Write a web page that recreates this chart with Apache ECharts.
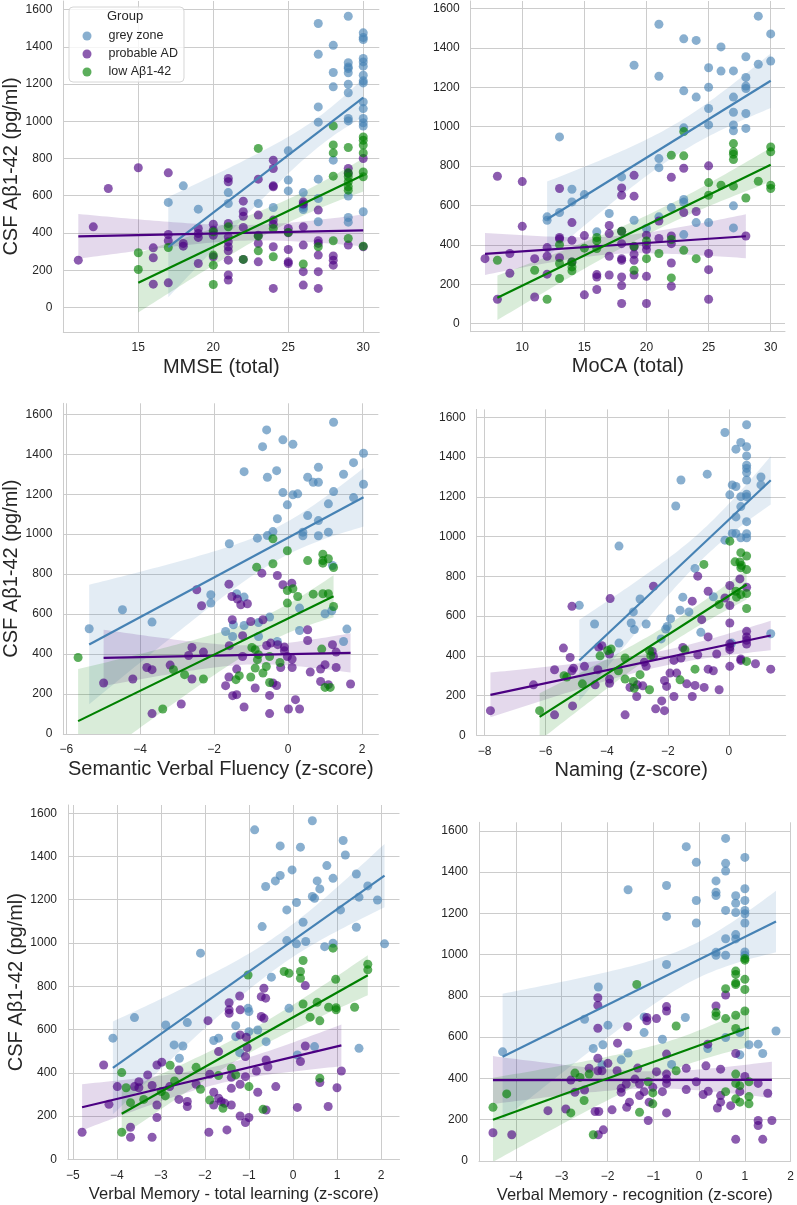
<!DOCTYPE html>
<html><head><meta charset="utf-8">
<script src="https://cdn.jsdelivr.net/npm/echarts@6/dist/echarts.min.js"></script>
<style>html,body{margin:0;padding:0;background:#fff}#c{width:797px;height:1205px}</style>
</head><body><div id="c"></div>
<script>
// ---------------- DATA ----------------
const groups = ['grey zone', 'probable AD', 'low Aβ1-42'];
const yLabel = 'CSF Aβ1-42 (pg/ml)';
const xLabels = ['MMSE (total)', 'MoCA (total)', 'Semantic Verbal Fluency (z-score)', 'Naming (z-score)',
  'Verbal Memory - total learning (z-score)', 'Verbal Memory - recognition (z-score)'];
const yTicks = [0, 200, 400, 600, 800, 1000, 1200, 1400, 1600];
const mmseTicks = [15, 20, 25, 30];
const mocaTicks = [10, 15, 20, 25, 30];
const svfTicks = [-6, -4, -2, 0, 2];
const namingTicks = [-8, -6, -4, -2, 0];
const vmtlTicks = [-5, -4, -3, -2, -1, 0, 1, 2];
const vmrTicks = [-4, -3, -2, -1, 0, 1, 2];

const mmse_grey = [[17,564],[18,653],[19,528],[21,617],[21,558],[23,558],[24,537],[25,841],[25,684],[25,626],[26,617],[26,549],[26,537],[26,526],[27,1525],[27,1360],[27,1077],[27,995],[27,689],[27,585],[27,460],[28,1408],[28,1262],[28,1185],[28,791],[29,1564],[29,1314],[29,1292],[29,1283],[29,1260],[29,1199],[29,1153],[29,1015],[29,1002],[29,598],[29,483],[29,458],[30,1475],[30,1450],[30,1439],[30,1337],[30,1319],[30,1296],[30,1247],[30,1217],[30,1206],[30,1104],[30,1068],[30,1015],[30,992],[30,974],[30,514]];
const mmse_ad = [[11,254],[12,433],[13,639],[15,750],[16,320],[16,267],[16,125],[17,723],[17,392],[17,358],[17,132],[18,344],[18,329],[19,424],[19,397],[19,376],[19,236],[20,447],[20,415],[20,388],[20,272],[21,693],[21,675],[21,451],[21,379],[21,353],[21,326],[21,304],[21,254],[21,174],[21,147],[22,571],[22,514],[22,490],[22,430],[22,258],[23,689],[23,496],[23,388],[23,344],[23,245],[24,791],[24,746],[24,653],[24,648],[24,469],[24,447],[24,326],[24,102],[25,424],[25,401],[25,311],[25,245],[25,236],[26,567],[26,555],[26,433],[26,335],[26,192],[26,120],[27,523],[27,358],[27,344],[27,281],[27,192],[27,102],[28,276],[28,254],[28,227],[29,746],[29,719],[29,335],[30,800],[30,326]];
const mmse_low = [[15,294],[15,204],[17,322],[20,406],[20,281],[20,227],[20,123],[21,433],[22,258],[23,854],[23,383],[23,304],[24,424],[24,272],[25,403],[26,233],[27,326],[28,975],[28,873],[28,830],[28,705],[28,358],[29,859],[29,723],[29,702],[29,675],[29,648],[29,630],[29,370],[30,916],[30,898],[30,872],[30,830],[30,728],[30,702],[30,329]];

const moca_grey = [[12,542],[12,525],[13,948],[13,564],[14,682],[14,618],[15,655],[16,466],[17,559],[18,745],[19,1312],[19,525],[20,483],[21,1520],[21,1256],[21,838],[21,792],[21,542],[22,589],[23,1446],[23,1182],[23,994],[23,630],[23,616],[23,452],[24,1438],[24,1150],[24,513],[25,1299],[25,1200],[25,1092],[25,1009],[25,513],[26,1405],[26,1282],[27,1283],[27,1150],[27,1073],[27,1009],[27,979],[27,598],[27,486],[28,1355],[28,1250],[28,1206],[28,1194],[28,1067],[28,991],[29,1561],[29,1317],[30,1471],[30,1333]];
const moca_ad = [[7,330],[8,748],[8,124],[9,356],[9,256],[10,721],[10,494],[11,330],[11,135],[12,386],[12,342],[12,251],[13,686],[13,437],[13,430],[13,335],[14,513],[14,423],[14,313],[15,447],[15,146],[16,249],[16,237],[16,173],[17,498],[17,457],[17,342],[17,247],[18,689],[18,652],[18,469],[18,406],[18,330],[18,322],[18,237],[18,193],[18,102],[19,753],[19,647],[19,389],[19,352],[19,322],[19,247],[20,449],[20,398],[20,376],[20,240],[20,102],[21,521],[21,432],[22,743],[22,445],[22,406],[22,308],[22,190],[23,789],[23,564],[24,569],[25,801],[25,356],[25,274],[25,124],[28,445]];
const moca_low = [[8,322],[11,271],[12,124],[13,401],[13,305],[13,229],[14,313],[14,288],[14,268],[15,383],[16,437],[16,420],[16,381],[18,469],[19,393],[19,271],[20,420],[20,330],[21,356],[22,855],[22,427],[22,232],[23,975],[23,852],[23,372],[24,330],[25,716],[25,652],[26,703],[27,914],[27,872],[27,860],[27,833],[27,698],[28,638],[29,723],[30,897],[30,872],[30,703],[30,686]];

const svf_grey = [[-5.38,527],[-4.48,622],[-3.68,560],[-2.09,697],[-2.09,655],[-1.59,952],[-1.69,513],[-1.50,488],[-1.48,547],[-1.39,702],[-1.19,1313],[-1.19,685],[-1.19,543],[-0.83,980],[-0.80,558],[-0.80,488],[-0.69,1438],[-0.58,1522],[-0.56,1285],[-0.56,993],[-0.50,585],[-0.41,1013],[-0.31,1318],[-0.29,1077],[-0.29,463],[-0.14,1472],[-0.14,1208],[-0.02,1147],[0.13,1450],[0.13,1197],[0.26,1202],[0.31,630],[0.31,518],[0.40,992],[0.40,1010],[0.53,1093],[0.53,1285],[0.68,1260],[0.82,1260],[0.82,1335],[0.82,1068],[0.82,992],[1.0,602],[1.09,1010],[1.09,1152],[1.23,1213],[1.23,1560],[1.20,843],[1.18,617],[1.50,1300],[1.50,463],[1.59,525],[1.77,1358],[1.77,1183],[2.04,1405],[2.04,1250]];
const svf_ad = [[-4.99,255],[-4.20,275],[-3.82,333],[-3.68,322],[-3.68,102],[-3.19,345],[-2.89,150],[-2.69,393],[-2.60,433],[-2.60,275],[-2.47,722],[-2.34,642],[-2.29,410],[-1.60,750],[-1.52,688],[-1.51,572],[-1.59,442],[-1.60,285],[-1.69,242],[-1.50,192],[-1.39,197],[-1.39,325],[-1.37,675],[-1.28,647],[-1.10,652],[-1.23,492],[-1.23,388],[-1.19,135],[-1.01,563],[-0.89,230],[-0.71,805],[-0.68,572],[-0.58,443],[-0.50,193],[-0.50,102],[-0.47,455],[-0.41,255],[-0.31,243],[-0.29,793],[-0.28,447],[-0.20,333],[-0.14,747],[-0.10,435],[-0.10,417],[-0.02,388],[0.01,125],[0.10,755],[0.11,333],[0.11,375],[0.20,172],[0.31,125],[0.53,522],[0.53,468],[0.60,310],[0.88,325],[0.88,263],[1.0,347],[1.09,247],[1.20,447],[1.30,333],[1.30,410],[1.69,250]];
const svf_low = [[-5.68,383],[-3.39,125],[-3.10,322],[-2.80,297],[-2.29,275],[-1.41,272],[-1.32,292],[-1.01,285],[-0.98,433],[-0.89,422],[-0.89,330],[-0.85,835],[-0.83,372],[-0.80,397],[-0.68,305],[-0.59,338],[-0.50,258],[-0.50,388],[-0.41,852],[-0.41,977],[-0.22,358],[-0.02,917],[-0.02,718],[-0.02,655],[0.13,727],[0.26,688],[0.53,868],[0.68,700],[0.91,425],[0.94,900],[0.94,868],[0.94,855],[0.94,702],[1.0,233],[1.09,877],[1.09,702],[1.14,233],[1.23,833],[1.23,638]];

const naming_grey = [[-4.90,654],[-4.40,560],[-3.60,464],[-3.60,952],[-3.20,565],[-3.13,621],[-3.10,532],[-2.91,686],[-2.71,560],[-2.22,485],[-2.07,535],[-2.02,548],[-1.91,587],[-1.74,1154],[-1.60,629],[-1.57,1285],[-1.51,695],[-1.31,621],[-1.11,840],[-0.92,518],[-0.71,1314],[-0.51,697],[-0.13,1524],[-0.13,982],[0.03,1210],[0.09,464],[0.11,1260],[0.11,1016],[0.23,1252],[0.23,1440],[0.23,1016],[0.23,1099],[0.39,1474],[0.39,1201],[0.39,1151],[0.39,994],[0.58,1563],[0.58,1452],[0.58,1406],[0.58,1359],[0.58,1343],[0.58,1322],[0.58,1285],[0.58,1213],[0.58,1201],[0.58,1075],[0.58,1014],[0.58,994],[1.05,1300],[1.05,1260],[1.37,511]];
const naming_ad = [[-7.81,124],[-6.40,254],[-5.71,330],[-5.71,103],[-5.42,439],[-5.20,392],[-5.14,649],[-5.14,325],[-5.09,338],[-5.12,148],[-4.73,347],[-4.38,254],[-4.29,330],[-4.27,444],[-4.16,451],[-3.91,409],[-3.91,283],[-3.91,262],[-3.89,688],[-3.40,103],[-3.24,241],[-3.02,195],[-3.00,254],[-2.82,249],[-2.77,368],[-2.71,347],[-2.47,750],[-2.51,422],[-2.47,397],[-2.40,133],[-2.20,173],[-2.11,124],[-2.11,276],[-2.04,246],[-1.93,313],[-1.80,195],[-1.80,377],[-1.71,313],[-1.57,389],[-1.51,442],[-1.38,259],[-1.20,195],[-1.20,675],[-1.11,251],[-1.02,801],[-1.02,405],[-0.89,582],[-0.81,241],[-0.68,725],[-0.68,495],[-0.68,333],[-0.51,325],[-0.40,409],[-0.32,229],[-0.13,691],[0.03,754],[0.03,653],[0.03,565],[0.03,461],[0.03,444],[0.03,431],[0.03,347],[0.36,787],[0.39,384],[0.39,377],[0.58,745],[0.58,523],[0.58,495],[0.58,478],[0.58,459],[0.87,360],[1.37,333]];
const naming_low = [[-6.20,124],[-5.40,300],[-5.31,293],[-4.80,259],[-4.22,400],[-3.97,427],[-3.86,434],[-3.62,325],[-3.40,283],[-3.40,389],[-3.13,271],[-3.10,237],[-2.91,305],[-2.60,229],[-2.60,426],[-2.56,400],[-1.60,279],[-1.44,431],[-1.11,333],[-0.82,860],[-0.32,658],[0.03,977],[0.20,873],[0.23,725],[0.25,695],[0.36,872],[0.39,919],[0.39,843],[0.39,708],[0.41,855],[0.58,902],[0.58,834],[0.58,713],[0.58,638],[0.58,372]];

const vmtl_grey = [[-4.09,560],[-3.60,655],[-2.89,621],[-2.70,529],[-2.58,467],[-2.50,524],[-2.40,632],[-2.10,953],[-1.80,549],[-1.69,560],[-1.30,618],[-1.30,567],[-1.21,493],[-1.02,698],[-1.0,683],[-1.0,590],[-0.87,1523],[-0.80,598],[-0.70,1076],[-0.62,1261],[-0.61,544],[-0.49,842],[-0.40,1287],[-0.29,1449],[-0.29,1312],[-0.14,1153],[-0.14,1011],[-0.09,698],[-0.02,1338],[0.08,1187],[0.08,996],[0.10,482],[0.17,1443],[0.23,1096],[0.29,1007],[0.44,1565],[0.44,1215],[0.49,1207],[0.49,521],[0.55,1287],[0.61,1250],[0.72,983],[0.77,1358],[0.91,1299],[0.91,999],[1.08,1153],[1.14,1474],[1.19,1407],[1.44,1319],[1.44,1073],[1.50,1212],[1.50,513],[1.70,1264],[1.92,1199],[2.08,996]];
const vmtl_ad = [[-4.79,125],[-4.30,436],[-4.18,254],[-3.99,336],[-3.69,148],[-3.69,102],[-3.60,336],[-3.50,359],[-3.50,331],[-3.30,390],[-3.20,341],[-3.20,102],[-3.09,436],[-3.09,251],[-3.09,193],[-2.98,449],[-2.80,336],[-2.59,277],[-2.59,413],[-2.40,267],[-2.40,244],[-2.20,347],[-1.93,641],[-1.91,125],[-1.89,393],[-1.80,310],[-1.80,251],[-1.69,498],[-1.69,282],[-1.63,267],[-1.55,259],[-1.45,724],[-1.45,691],[-1.45,675],[-1.50,136],[-1.40,251],[-1.40,328],[-1.40,379],[-1.21,755],[-1.20,691],[-1.20,575],[-1.20,347],[-1.20,200],[-1.08,170],[-1.08,475],[-1.08,382],[-1.06,564],[-1.04,516],[-1.0,193],[-0.83,408],[-0.80,310],[-0.72,660],[-0.72,752],[-0.66,791],[-0.66,652],[-0.62,745],[-0.61,459],[-0.57,428],[-0.61,228],[-0.39,336],[0.10,240],[0.17,452],[0.28,803],[0.28,524],[0.61,355],[0.80,244],[1.0,331],[1.10,408]];
const vmtl_low = [[-3.89,125],[-3.89,401],[-3.79,331],[-3.69,262],[-3.39,277],[-2.99,313],[-2.90,293],[-2.79,435],[-2.69,362],[-2.20,425],[-2.10,324],[-1.89,274],[-1.69,387],[-1.59,236],[-1.40,421],[-1.30,390],[-1.02,852],[-1.0,336],[-0.68,231],[-0.20,868],[-0.09,860],[0.17,868],[0.17,837],[0.23,919],[0.23,718],[0.39,657],[0.55,726],[0.61,640],[0.61,375],[0.81,703],[0.91,976],[0.97,832],[0.98,701],[0.98,691],[1.40,703],[1.70,902],[1.70,876]];

const vmr_grey = [[-4.29,529],[-2.50,687],[-2.31,545],[-2.20,843],[-2.10,563],[-2.12,466],[-1.99,658],[-1.70,490],[-1.55,523],[-1.55,1314],[-1.20,622],[-1.20,698],[-0.80,590],[-0.71,1335],[-0.71,1185],[-0.71,952],[-0.60,468],[-0.30,695],[-0.28,1523],[-0.06,1447],[-0.06,1262],[-0.06,1153],[0.19,545],[0.37,1357],[0.37,1302],[0.37,1286],[0.37,1011],[0.37,997],[0.58,1563],[0.58,1442],[0.58,1405],[0.58,1214],[0.58,1077],[0.58,997],[0.58,598],[0.80,1285],[0.80,1249],[0.80,1204],[0.80,1097],[0.80,1076],[0.89,622],[0.89,515],[1.0,1471],[1.0,1319],[1.0,1262],[1.0,1214],[1.0,1198],[1.0,1153],[1.0,1013],[1.0,997],[1.09,563],[1.29,566],[1.39,521],[1.68,630]];
const vmr_ad = [[-4.50,137],[-4.09,127],[-3.30,244],[-2.91,252],[-2.80,392],[-2.71,333],[-2.50,344],[-2.40,449],[-2.27,240],[-2.21,791],[-2.21,754],[-2.21,643],[-2.21,498],[-2.21,437],[-2.19,240],[-2.20,127],[-2.12,437],[-2.09,151],[-1.99,473],[-1.90,248],[-1.78,571],[-1.79,437],[-1.70,352],[-1.70,333],[-1.59,373],[-1.58,260],[-1.56,651],[-1.52,285],[-1.40,397],[-1.34,450],[-1.30,373],[-1.30,317],[-1.20,336],[-1.14,695],[-1.14,679],[-1.11,196],[-1.09,285],[-1.01,357],[-0.93,433],[-0.93,690],[-0.80,336],[-0.71,748],[-0.71,727],[-0.71,518],[-0.71,421],[-0.71,397],[-0.71,376],[-0.71,233],[-0.28,449],[-0.28,346],[-0.06,384],[0.09,322],[0.15,461],[0.19,566],[0.20,338],[0.40,257],[0.47,445],[0.47,317],[0.47,285],[0.37,751],[0.58,804],[0.69,268],[0.80,521],[0.80,105],[0.89,336],[1.0,410],[1.29,376],[1.29,196],[1.29,172],[1.39,105],[1.50,328],[1.59,196]];
const vmr_low = [[-4.50,260],[-4.20,325],[-2.80,233],[-2.71,426],[-2.60,405],[-2.51,293],[-2.40,421],[-2.31,127],[-1.36,855],[-1.30,236],[-1.11,384],[-1.01,330],[-1.01,277],[-0.50,654],[-0.50,437],[0.37,719],[0.37,703],[0.58,835],[0.58,690],[0.58,336],[0.80,920],[0.80,904],[0.80,863],[0.80,855],[0.80,706],[0.80,642],[0.80,421],[0.80,376],[0.80,301],[0.89,365],[0.89,285],[1.0,981],[1.0,973],[1.0,880],[1.0,831],[1.0,727],[1.09,384],[1.09,312],[1.09,277]];

// ---------------- LAYOUT / STYLE ----------------
const panels = [
  {data:[mmse_grey, mmse_ad, mmse_low], ticks:mmseTicks, left:63.3, top:1, width:316, height:331, xmin:10, xmax:31.07, ymin:-132, ymax:1646, ylab:true, nameGap:25, nameSize:20},
  {data:[moca_grey, moca_ad, moca_low], ticks:mocaTicks, left:470.7, top:1, width:314.3, height:330.7, xmin:5.85, xmax:31.15, ymin:-41, ymax:1638, ylab:false, nameGap:25, nameSize:20},
  {data:[svf_grey, svf_ad, svf_low], ticks:svfTicks, left:63.3, top:403.3, width:315, height:330.7, xmin:-6.08, xmax:2.44, ymin:0, ymax:1655, ylab:true, nameGap:25, nameSize:20},
  {data:[naming_grey, naming_ad, naming_low], ticks:namingTicks, left:476.7, top:409.4, width:309, height:325.9, xmin:-8.26, xmax:1.86, ymin:0, ymax:1640, ylab:false, nameGap:25, nameSize:20},
  {data:[vmtl_grey, vmtl_ad, vmtl_low], ticks:vmtlTicks, left:68, top:805, width:331.5, height:354.3, xmin:-5.11, xmax:2.42, ymin:0, ymax:1638, ylab:true, nameGap:27, nameSize:16.5},
  {data:[vmr_grey, vmr_ad, vmr_low], ticks:vmrTicks, left:479, top:822.3, width:314.5, height:340, xmin:-4.805, xmax:2.0, ymin:0, ymax:1641, ylab:false, nameGap:26, nameSize:16.5}
];
const dotColors = ['rgba(70,130,180,0.8)', 'rgba(75,0,130,0.8)', 'rgba(0,128,0,0.8)'];
const lineColors = ['#4682b4', '#4b0082', '#008000'];
const bandColors = ['rgba(70,130,180,0.15)', 'rgba(75,0,130,0.15)', 'rgba(0,128,0,0.15)'];
const FONT = '"Liberation Sans", Arial, sans-serif';
const TXT = '#262626';
const GRIDC = '#cccccc';

function regress(pts) {
  const n = pts.length;
  let mx = 0, my = 0;
  pts.forEach(p => { mx += p[0]; my += p[1]; });
  mx /= n; my /= n;
  let sxx = 0, sxy = 0;
  pts.forEach(p => { sxx += (p[0]-mx)*(p[0]-mx); sxy += (p[0]-mx)*(p[1]-my); });
  const b = sxy / sxx, a = my - b * mx;
  let sse = 0;
  pts.forEach(p => { const r = p[1] - (a + b*p[0]); sse += r*r; });
  const s = Math.sqrt(sse / (n - 2));
  const t = 1.98;
  let xmin = Infinity, xmax = -Infinity;
  pts.forEach(p => { xmin = Math.min(xmin, p[0]); xmax = Math.max(xmax, p[0]); });
  const band = [];
  const K = 60;
  for (let i = 0; i <= K; i++) {
    const x = xmin + (xmax - xmin) * i / K;
    const y = a + b * x;
    const h = t * s * Math.sqrt(1/n + (x-mx)*(x-mx)/sxx);
    band.push([x, y - h, y + h]);
  }
  return {line: [[xmin, a + b*xmin], [xmax, a + b*xmax]], band};
}

const fmt = v => String(v).replace('-', '\u2212');

const grid = [], xAxis = [], yAxis = [], series = [];
panels.forEach((p, i) => {
  grid.push({left: p.left, top: p.top, width: p.width, height: p.height, containLabel: false});
  xAxis.push({
    gridIndex: i, type: 'value', min: p.xmin, max: p.xmax,
    axisLine: {show: true, onZero: false, lineStyle: {color: GRIDC, width: 1}},
    axisTick: {show: false, customValues: p.ticks},
    axisLabel: {customValues: p.ticks, formatter: fmt, fontSize: 12, color: TXT, margin: 10, fontFamily: FONT},
    splitLine: {show: true, lineStyle: {color: GRIDC, width: 1}},
    name: xLabels[i], nameLocation: 'middle', nameGap: p.nameGap,
    nameTextStyle: {fontSize: p.nameSize, color: TXT, fontFamily: FONT}
  });
  yAxis.push({
    gridIndex: i, type: 'value', min: p.ymin, max: p.ymax,
    axisLine: {show: true, onZero: false, lineStyle: {color: GRIDC, width: 1}},
    axisTick: {show: false, customValues: yTicks},
    axisLabel: {customValues: yTicks, formatter: fmt, fontSize: 12, color: TXT, margin: 11, fontFamily: FONT},
    splitLine: {show: true, lineStyle: {color: GRIDC, width: 1}},
    name: p.ylab ? yLabel : '', nameLocation: 'middle', nameGap: 41, nameRotate: 90,
    nameTextStyle: {fontSize: 20, color: TXT, fontFamily: FONT}
  });
  p.data.forEach((pts, g) => {
    const r = regress(pts);
    series.push({
      name: groups[g], type: 'scatter', xAxisIndex: i, yAxisIndex: i, data: pts,
      symbol: 'circle', symbolSize: 9, itemStyle: {color: dotColors[g]}, silent: true, z: 2
    });
    const band = r.band;
    series.push({
      name: groups[g] + ' ci', type: 'custom', xAxisIndex: i, yAxisIndex: i, clip: true, silent: true, z: 2,
      data: band, encode: {x: 0, y: [1, 2]},
      renderItem: (params, api) => {
        if (params.dataIndex !== 0) return null;
        const up = band.map(d => api.coord([d[0], d[2]]));
        const lo = band.map(d => api.coord([d[0], d[1]])).reverse();
        return {type: 'polygon', shape: {points: up.concat(lo)}, style: {fill: bandColors[g], stroke: null}};
      }
    });
    series.push({
      name: groups[g] + ' fit', type: 'line', xAxisIndex: i, yAxisIndex: i, data: r.line,
      showSymbol: false, symbol: 'none', silent: true, z: 3,
      lineStyle: {color: lineColors[g], width: 2.2}
    });
  });
});

const chart = echarts.init(document.getElementById('c'), null, {renderer: 'canvas'});
chart.setOption({
  animation: false,
  backgroundColor: '#ffffff',
  textStyle: {fontFamily: FONT},
  title: {text: 'Group', left: 107, top: 10, padding: 0, textStyle: {fontSize: 13, fontWeight: 'normal', color: TXT, fontFamily: FONT}, z: 10},
  legend: {
    left: 69, top: 7, orient: 'vertical', padding: [22, 6, 3, 13.5], itemWidth: 9, itemHeight: 9, itemGap: 4,
    icon: 'circle', selectedMode: false, borderColor: '#d6d6d6', borderWidth: 1, borderRadius: 4,
    backgroundColor: 'rgba(255,255,255,0.8)', z: 9,
    textStyle: {fontSize: 12.5, color: TXT, padding: [0, 0, 0, 12], lineHeight: 14, fontFamily: FONT},
    data: groups
  },
  grid, xAxis, yAxis, series
});
</script></body></html>
